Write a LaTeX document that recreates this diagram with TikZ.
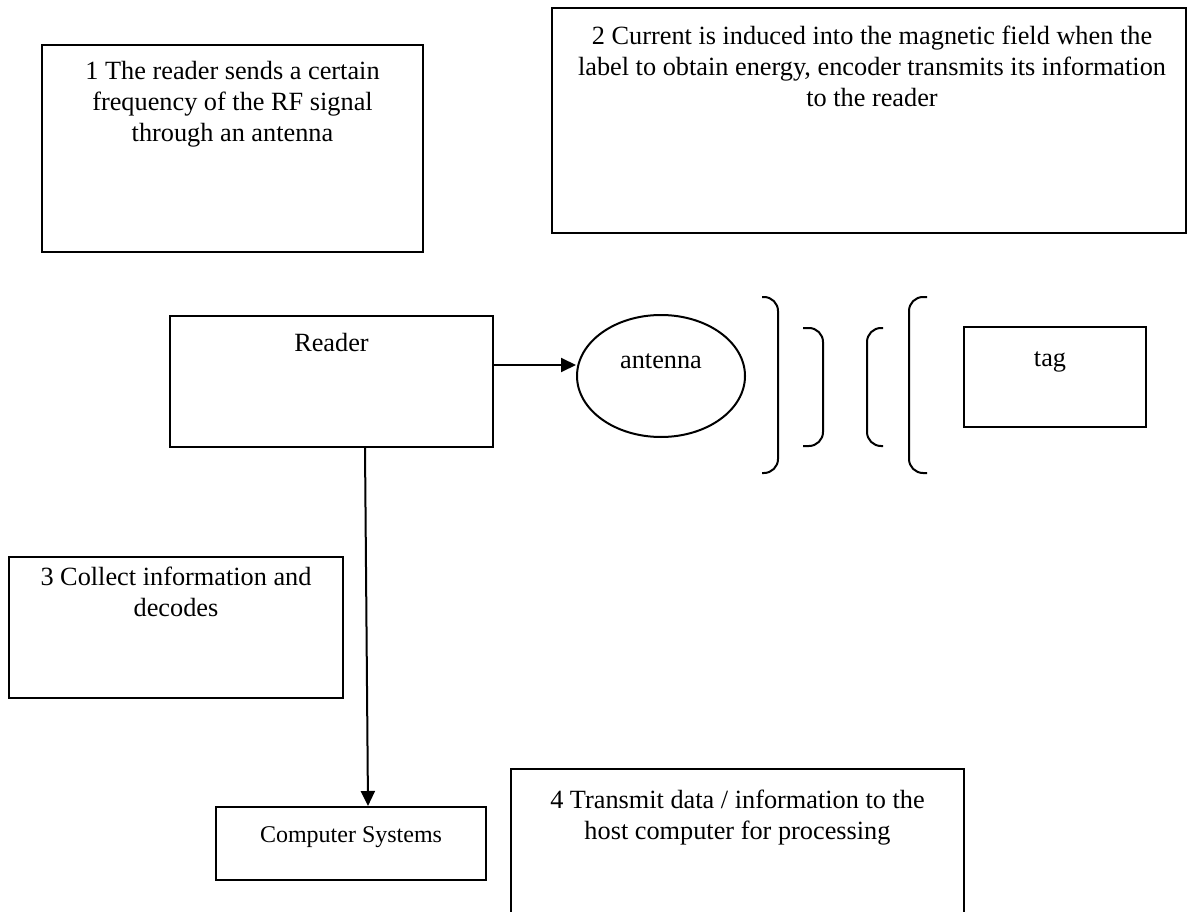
\documentclass[tikz,border=0pt]{standalone}
\usepackage{fontspec}
\setmainfont{Liberation Serif}
\usetikzlibrary{arrows.meta, shapes.geometric}

\begin{document}
\begin{tikzpicture}[
            x = 1pt, y = -1pt, % one unit per pixel of the layout
            > = {Triangle[length=15pt, width=14pt]}, % arrow head style
            line width = 2pt, % line style
            font = \fontsize{26.3}{31}\selectfont
        ]

        \tikzstyle{block}=[
            draw = black,
            rectangle,
            inner sep = 0pt
        ]
        \tikzstyle{note}=[
            align = center,
            anchor = north,
            inner sep = 0pt
        ]
        \tikzstyle{bracket}=[rounded corners = 14pt]

        \useasboundingbox (0,0) rectangle (1189,912);

        % step boxes
        \node[block, minimum width = 381pt, minimum height = 207pt] (box1) at (232.5,148.5) {};
        \node[block, minimum width = 634pt, minimum height = 225pt] (box2) at (869,120.5) {};
        \node[block, minimum width = 334pt, minimum height = 141pt] (box3) at (176,627.5) {};
        \node[block, minimum width = 453pt, minimum height = 170pt] (box4) at (737.5,854) {};

        \node[note] (note1) at ([yshift=-13.3pt]box1.north)
            {\strut 1 The reader sends a certain\\frequency of the RF signal\\through an antenna};
        \node[note] (note2) at ([xshift=3pt, yshift=-15.3pt]box2.north)
            {\strut 2 Current is induced into the magnetic field when the\\label to obtain energy, encoder transmits its information\\to the reader};
        \node[note] (note3) at ([yshift=-6.3pt]box3.north)
            {\strut 3 Collect information and\\decodes};
        \node[note] (note4) at ([yshift=-17.3pt]box4.north)
            {\strut 4 Transmit data / information to the\\host computer for processing};

        % parts
        \node[block, minimum width = 323pt, minimum height = 131pt] (reader) at (331.5,381.5) {};
        \node[draw, ellipse, minimum width = 168pt, minimum height = 122pt, inner sep = 0pt] (antenna) at (661,376) {};
        \node[block, minimum width = 182pt, minimum height = 100pt] (tag) at (1055,377) {};
        \node[block, minimum width = 270pt, minimum height = 73pt] (cs) at (351,843.5) {};

        \node[anchor = base] (readertxt) at ([yshift=-36pt]reader.north) {Reader};
        \node[anchor = base] (antennatxt) at ([yshift=8pt]antenna.center) {antenna};
        \node[anchor = base] (tagtxt) at ([xshift=-5pt, yshift=-40pt]tag.north) {tag};
        \node[anchor = base, font = \fontsize{24}{28}\selectfont] (cstxt) at ([yshift=-36pt]cs.north) {Computer Systems};

        % field
        \draw[bracket] (762,297) -- (778,297) -- (778,473) -- (762,473);
        \draw[bracket] (803,328) -- (823,328) -- (823,446) -- (803,446);
        \draw[bracket] (883,328) -- (867,328) -- (867,446) -- (883,446);
        \draw[bracket] (927,297) -- (909,297) -- (909,473) -- (927,473);

        \draw[->] ([yshift=16.5pt]reader.east) -- ([yshift=16.5pt]reader.east -| antenna.west);
        \draw[->] ([xshift=33.5pt]reader.south) -- ([xshift=17pt]cs.north);

  \end{tikzpicture}
\end{document}
